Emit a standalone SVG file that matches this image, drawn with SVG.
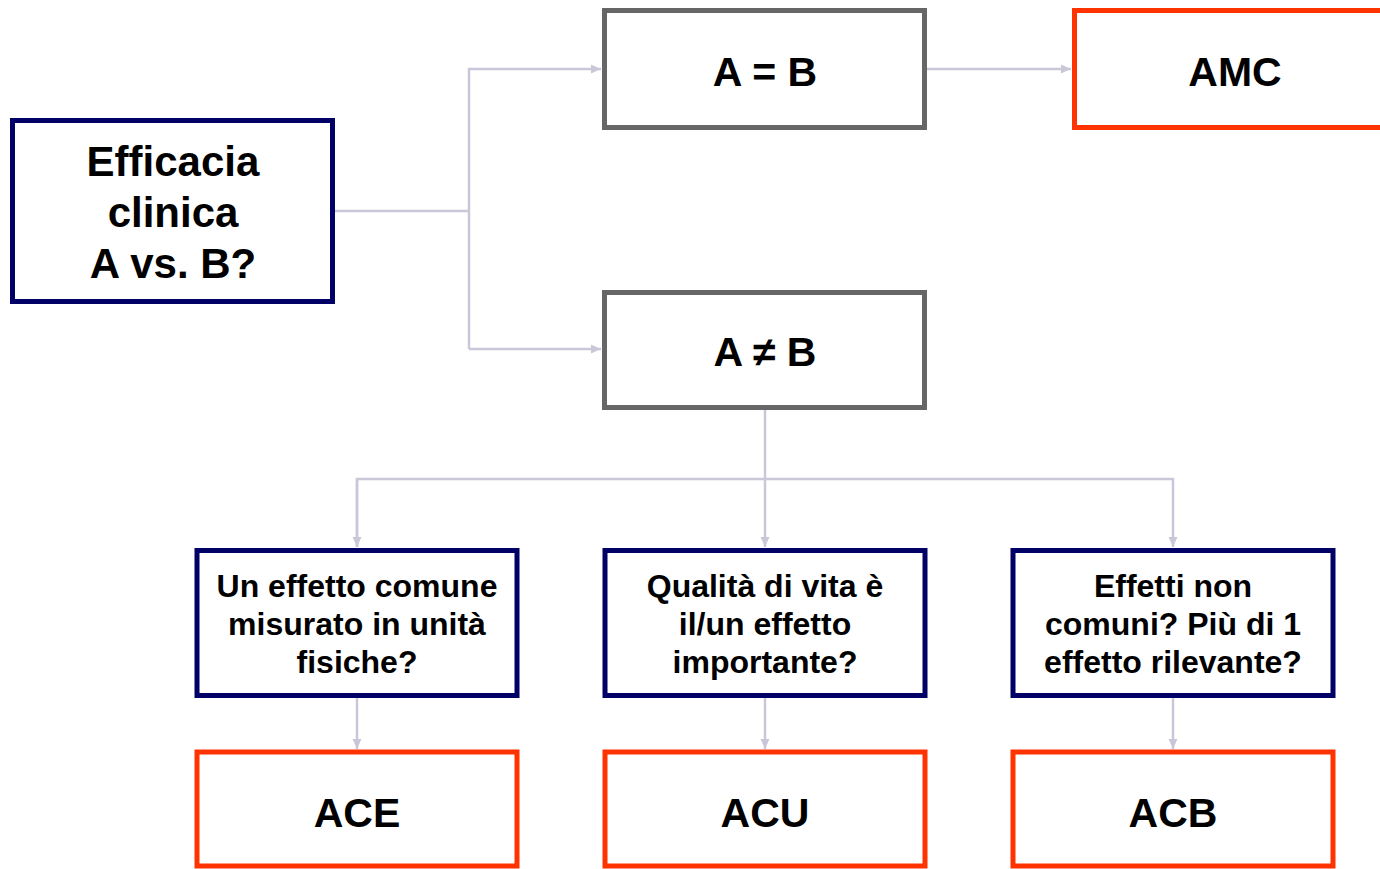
<svg xmlns="http://www.w3.org/2000/svg" width="1380" height="869" viewBox="0 0 1380 869">
<defs>
<style>
.navy{fill:#fff;stroke:#000066;stroke-width:5}
.gray{fill:#fff;stroke:#666666;stroke-width:5}
.red{fill:#fff;stroke:#ff3300;stroke-width:5}
.big{font-family:"Liberation Sans",Arial,sans-serif;font-weight:bold;font-size:41px;fill:#000;text-anchor:middle}
.eff{font-family:"Liberation Sans",Arial,sans-serif;font-weight:bold;font-size:42px;fill:#000;text-anchor:middle}
.q{font-family:"Liberation Sans",Arial,sans-serif;font-weight:bold;font-size:32px;fill:#000;text-anchor:middle}
.c{fill:none;stroke:#cbc7d8;stroke-width:2.5}
</style>
<marker id="ah" markerWidth="10" markerHeight="10" viewBox="0 0 10 10" refX="10" refY="5" orient="auto" markerUnits="userSpaceOnUse">
<path d="M0,0.5 L10,5 L0,9.5 Z" fill="#cbc7d8"/>
</marker>
</defs>
<rect width="1380" height="869" fill="#fff"/>
<g id="connectors">
<path class="c" d="M335,211 H469"/>
<path class="c" d="M469,349 V69 H601" marker-end="url(#ah)"/>
<path class="c" d="M469,349 H601" marker-end="url(#ah)"/>
<path class="c" d="M927,69 H1071" marker-end="url(#ah)"/>
<path class="c" d="M765,410 V547" marker-end="url(#ah)"/>
<path class="c" d="M357,547 V479 H1173 V547" marker-end="url(#ah)"/>
<path class="c" d="M357,479 V547" marker-end="url(#ah)"/>
<path class="c" d="M357,698 V749" marker-end="url(#ah)"/>
<path class="c" d="M765,698 V749" marker-end="url(#ah)"/>
<path class="c" d="M1173,698 V749" marker-end="url(#ah)"/>
</g>
<g id="efficacia">
<rect class="navy" x="12.5" y="120.5" width="320" height="181"/>
<text class="eff" x="173" y="176">Efficacia</text>
<text class="eff" x="173" y="227">clinica</text>
<text class="eff" x="173" y="278">A vs. B?</text>
</g>
<g id="aeqb">
<rect class="gray" x="604.5" y="10.5" width="320" height="117"/>
<text class="big" x="765" y="86">A = B</text>
</g>
<g id="amc">
<rect class="red" x="1074.5" y="10.5" width="330" height="117"/>
<text class="big" x="1235" y="86">AMC</text>
</g>
<g id="aneqb">
<rect class="gray" x="604.5" y="292.5" width="320" height="115"/>
<text class="big" x="765" y="366">A ≠ B</text>
</g>
<g id="q1">
<rect class="navy" x="197" y="550.5" width="320" height="145"/>
<text class="q" x="357" y="597">Un effetto comune</text>
<text class="q" x="357" y="635">misurato in unità</text>
<text class="q" x="357" y="673">fisiche?</text>
</g>
<g id="q2">
<rect class="navy" x="605" y="550.5" width="320" height="145"/>
<text class="q" x="765" y="597">Qualità di vita è</text>
<text class="q" x="765" y="635">il/un effetto</text>
<text class="q" x="765" y="673">importante?</text>
</g>
<g id="q3">
<rect class="navy" x="1013" y="550.5" width="320" height="145"/>
<text class="q" x="1173" y="597">Effetti non</text>
<text class="q" x="1173" y="635">comuni? Più di 1</text>
<text class="q" x="1173" y="673">effetto rilevante?</text>
</g>
<g id="ace">
<rect class="red" x="197" y="752" width="320" height="114"/>
<text class="big" x="357" y="827">ACE</text>
</g>
<g id="acu">
<rect class="red" x="605" y="752" width="320" height="114"/>
<text class="big" x="765" y="827">ACU</text>
</g>
<g id="acb">
<rect class="red" x="1013" y="752" width="320" height="114"/>
<text class="big" x="1173" y="827">ACB</text>
</g>
</svg>
